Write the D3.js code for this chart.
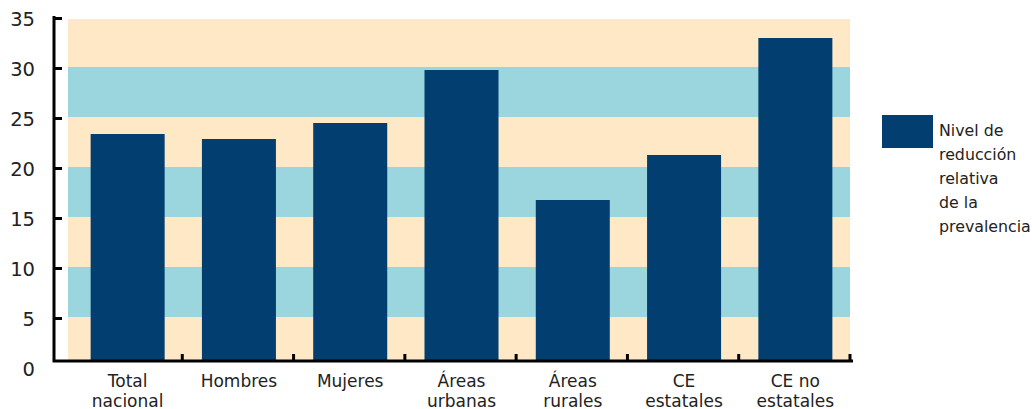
<!DOCTYPE html>
<html><head><meta charset="utf-8">
<script src="https://cdn.jsdelivr.net/npm/d3@7"></script>
<style>body{margin:0;background:#fff}svg{display:block}text{font-family:"DejaVu Sans",Verdana,sans-serif;fill:#222}</style>
</head><body><svg id="c" width="1032" height="409"></svg>
<script>
const categories = [["Total","nacional"],["Hombres"],["Mujeres"],["Áreas","urbanas"],["Áreas","rurales"],["CE","estatales"],["CE no","estatales"]];
const values = [23.3, 22.8, 24.4, 29.7, 16.7, 21.2, 32.9];
const yTicks = [0,5,10,15,20,25,30,35];
const bands = [[0,5],[5,10],[10,15],[15,20],[20,25],[25,30],[30,35]];
const legendLines = ["Nivel de","reducción","relativa","de la","prevalencia"];
const colors = {bar:"#023E70", peach:"#FEE8C5", cyan:"#9BD6DE"};

const svg = d3.select("#c");
const keys = categories.map(c=>c.join(" "));
const x = d3.scaleBand().domain(keys).range([72,851]).paddingInner(0.335).paddingOuter(0.1675);
const y = d3.scaleLinear().domain([0,35]).range([367,17]);
const axisY = 361, axisX = 54;

svg.append("defs").append("clipPath").attr("id","pc").append("rect")
  .attr("x",68).attr("y",19).attr("width",782).attr("height",axisY-19);
const bg = svg.append("g").attr("clip-path","url(#pc)");
bg.selectAll("rect").data(bands).join("rect")
  .attr("x",68).attr("width",782)
  .attr("y",d=>y(d[1])).attr("height",d=>y(d[0])-y(d[1]))
  .attr("fill",(d,i)=>i%2? colors.cyan: colors.peach);

svg.append("g").selectAll("rect").data(values).join("rect")
  .attr("x",(d,i)=>x(keys[i])).attr("width",x.bandwidth())
  .attr("y",d=>y(d)).attr("height",d=>axisY-y(d))
  .attr("fill",colors.bar);

// axes
const ax = svg.append("g").attr("stroke","#000").attr("stroke-width",3).attr("fill","none");
ax.append("path").attr("d",`M${axisX},${y(35)-1}V${axisY}H853`);
yTicks.filter(v=>v>0).forEach(v=>{
  ax.append("line").attr("x1",axisX).attr("x2",62).attr("y1",y(v)+1.5).attr("y2",y(v)+1.5);
});
const step = x.step();
for(let i=1;i<=keys.length;i++){
  const xx = 72 + i*step - 1;
  ax.append("line").attr("x1",Math.min(xx,851.5)).attr("x2",Math.min(xx,851.5)).attr("y1",axisY).attr("y2",axisY-7);
}

svg.append("g").selectAll("text").data(yTicks).join("text")
  .attr("x",35).attr("y",d=>y(d)+2).attr("dy","0.35em")
  .attr("text-anchor","end").attr("font-size",19.5).text(d=>d);

const xl = svg.append("g");
categories.forEach((c,i)=>{
  const cx = x(keys[i]) + x.bandwidth()/2;
  c.forEach((line,j)=>{
    xl.append("text").attr("x",cx).attr("y",387+j*19.5).attr("text-anchor","middle")
      .attr("font-size",17).text(line);
  });
});

// legend
svg.append("rect").attr("x",882).attr("y",115).attr("width",51).attr("height",33).attr("fill",colors.bar);
svg.append("g").selectAll("text").data(legendLines).join("text")
  .attr("x",939).attr("y",(d,i)=>136+i*24).attr("font-size",15.8).text(d=>d);
</script></body></html>
